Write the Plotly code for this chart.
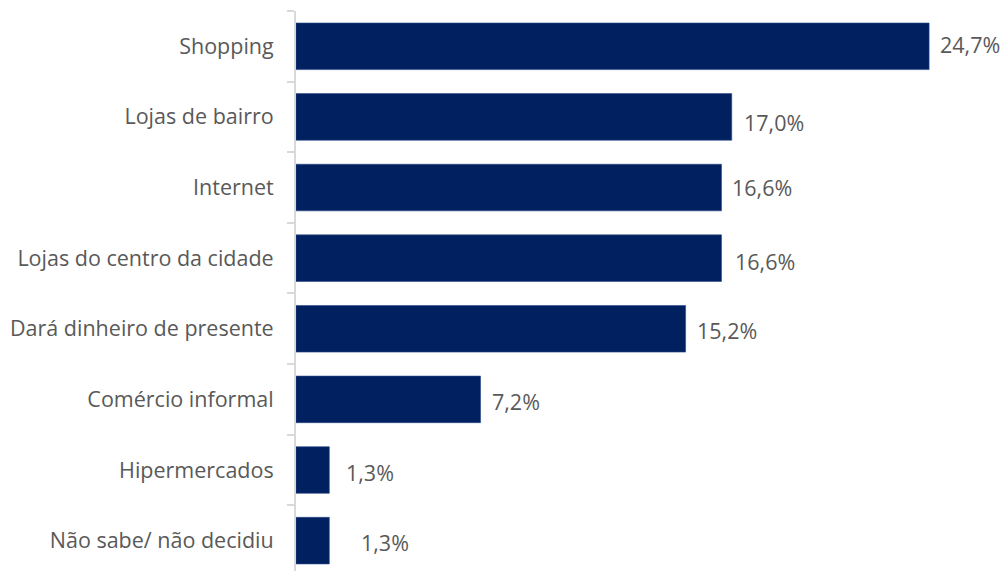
import plotly.graph_objects as go

# Onde pretende comprar os presentes (%)
categories = [
    "Shopping",
    "Lojas de bairro",
    "Internet",
    "Lojas do centro da cidade",
    "Dará dinheiro de presente",
    "Comércio informal",
    "Hipermercados",
    "Não sabe/ não decidiu",
]
values = [24.7, 17.0, 16.6, 16.6, 15.2, 7.2, 1.3, 1.3]
value_labels = ["24,7%", "17,0%", "16,6%", "16,6%", "15,2%", "7,2%", "1,3%", "1,3%"]

# label placement relative to each bar end (px): horizontal gap, vertical shift
label_gaps = [9, 10, 9, 12, 9, 9, 15, 30]
label_yshift = [2, -6, 0, -3, -2, -2, -2, -2]

BAR = "#002060"
BAR_EDGE = "#2a4a8a"
TEXT = "#595959"
AXIS = "#d9d9d9"
FONT = "Open Sans"
FONT_SIZE = 21.5

fig = go.Figure(
    go.Bar(
        x=values,
        y=categories,
        orientation="h",
        marker=dict(color=BAR, line=dict(width=0.6, color=BAR_EDGE)),
        width=0.66,
        hoverinfo="skip",
    )
)

for cat, v, lab, gap, dy in zip(categories, values, value_labels, label_gaps, label_yshift):
    fig.add_annotation(
        x=v, y=cat, text=lab, showarrow=False,
        xanchor="left", yanchor="middle", xshift=gap, yshift=dy,
        font=dict(family=FONT, size=FONT_SIZE, color=TEXT),
    )

fig.update_layout(
    width=1006, height=571,
    margin=dict(l=296, r=0, t=11, b=0),
    paper_bgcolor="white", plot_bgcolor="white",
    showlegend=False,
    xaxis=dict(range=[0, 27.7], visible=False, fixedrange=True),
    yaxis=dict(
        type="category",
        categoryorder="array", categoryarray=categories,
        range=[7.43, -0.5],
        showline=True, linecolor=AXIS, linewidth=2,
        ticks="outside", tickson="boundaries", ticklen=7, tickwidth=2, tickcolor=AXIS,
        ticklabelstandoff=16,
        tickfont=dict(family=FONT, size=FONT_SIZE, color=TEXT),
        showgrid=False, zeroline=False,
    ),
)

fig.write_html("out.html")
